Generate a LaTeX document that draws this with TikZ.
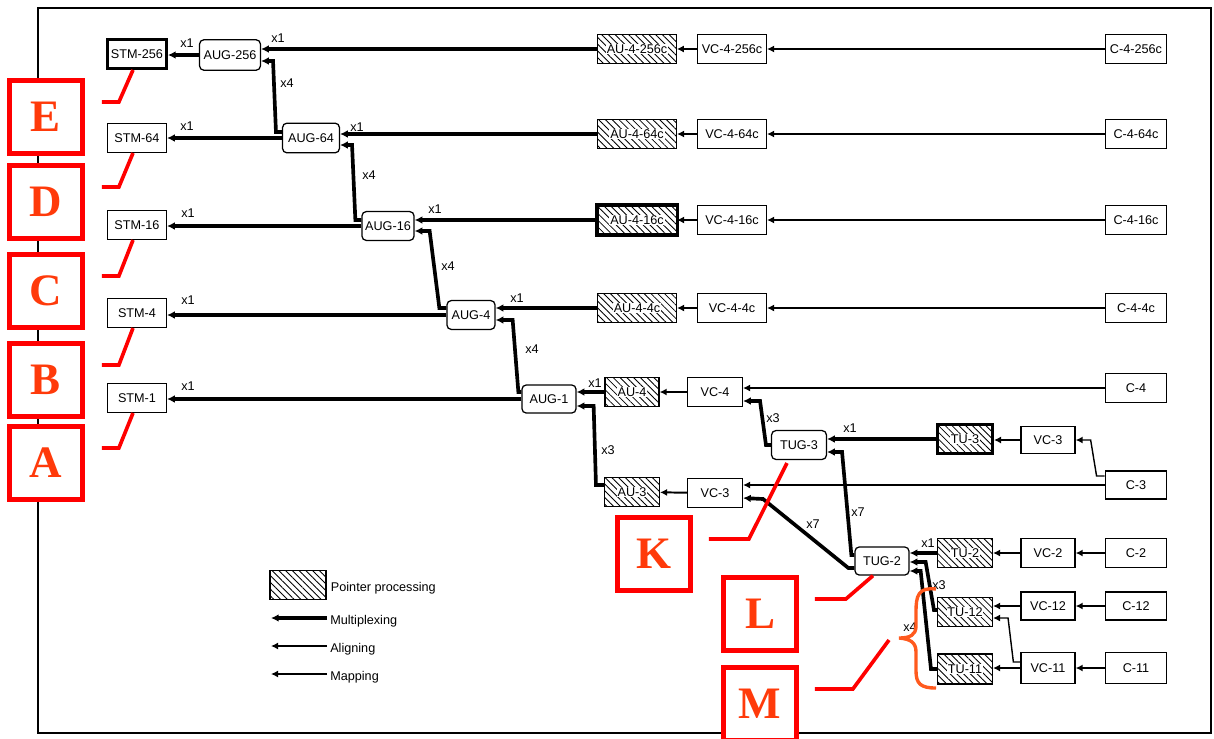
\documentclass[tikz,border=0pt]{standalone}
\usepackage{fontspec}
\setmainfont{Liberation Sans}
\newfontfamily\letterfont{Liberation Serif}
\usetikzlibrary{arrows.meta,positioning,calc,patterns.meta}
\definecolor{callred}{HTML}{FF0000}
\definecolor{lettercol}{HTML}{FF3A0A}
\definecolor{bracecol}{HTML}{FF5A1E}
\newcommand{\ptrtxt}[1]{{\setlength{\fboxsep}{0.6pt}\colorbox{white}{#1}}}
\tikzset{
  unit/.style={draw, line width=0.9pt, minimum height=0.72cm, inner sep=1pt, font=\fontsize{9}{10}\selectfont},
  grp/.style={unit, rounded corners=3pt},
  ptrbox/.style={unit, pattern={Lines[angle=-45,distance=3.4pt,line width=0.6pt]}},
  heavy/.style={line width=2.2pt},
  muxarr/.style={line width=2.6pt, -{Latex[length=5.5pt,width=5.5pt]}},
  alnarr/.style={line width=1.4pt, -{Latex[length=5pt,width=5pt]}},
  maparr/.style={line width=1pt, -{Latex[length=5pt,width=5pt]}},
  mlt/.style={font=\fontsize{9}{10}\selectfont, inner sep=0pt},
  callbox/.style={draw=callred, line width=3.5pt, fill=white, minimum size=1.82cm, inner sep=0pt,
    text=lettercol, font=\letterfont\bfseries\fontsize{32}{32}\selectfont},
  callout/.style={draw=callred, line width=2.6pt},
}

\begin{document}
\begin{tikzpicture}[x=0.025cm, y=-0.025cm]
\useasboundingbox (0,0) rectangle (1214,738);
\draw[line width=1.4pt] (38,8) rectangle (1211,733);

% STM outputs and AUG chain
\node[unit, heavy, minimum width=1.47cm] (stm256) at (137,54) {STM-256};
\foreach \n/\t/\y in {stm64/STM-64/138, stm16/STM-16/225, stm4/STM-4/313, stm1/STM-1/398}
  \node[unit, minimum width=1.47cm] (\n) at (137,\y) {\t};
\node[grp, minimum width=1.52cm, minimum height=0.76cm] (aug256) at (230,55) {AUG-256};
\node[grp, minimum width=1.42cm, minimum height=0.74cm] (aug64) at (311,138) {AUG-64};
\node[grp, minimum width=1.3cm] (aug16) at (388,226) {AUG-16};
\node[grp, minimum width=1.2cm] (aug4) at (471,315) {AUG-4};
\node[grp, minimum width=1.35cm, minimum height=0.7cm] (aug1) at (549,399) {AUG-1};

% contiguous concatenation rows
\foreach \rw/\y in {256/49, 64/134, 16/220, 4/308}{
  \node[ptrbox, minimum width=1.97cm] (au\rw c) at (637,\y) {\ptrtxt{AU-4-\rw c}};
  \node[unit, minimum width=1.72cm] (vc\rw c) at (732,\y) {VC-4-\rw c};
  \node[unit, minimum width=1.54cm] (c\rw c) at (1136,\y) {C-4-\rw c};
  \draw[alnarr] (vc\rw c) -- (au\rw c);
  \draw[maparr] (c\rw c) -- (vc\rw c);
}
\draw[heavy] (au16c.south west) rectangle (au16c.north east);

% lower branch
\node[ptrbox, minimum width=1.35cm] (au4) at (632,392) {\ptrtxt{AU-4}};
\node[unit, minimum width=1.37cm] (vc4) at (715,392) {VC-4};
\node[unit, minimum width=1.54cm] (c4) at (1136,388) {C-4};
\node[grp, minimum width=1.37cm] (tug3) at (799,445) {TUG-3};
\node[ptrbox, heavy, minimum width=1.37cm] (tu3) at (965,439) {\ptrtxt{TU-3}};
\node[unit, minimum width=1.35cm, minimum height=0.68cm] (vc3r) at (1048,440) {VC-3};
\node[unit, minimum width=1.54cm, minimum height=0.7cm] (c3) at (1136,485) {C-3};
\node[ptrbox, minimum width=1.37cm] (au3) at (632,492) {\ptrtxt{AU-3}};
\node[unit, minimum width=1.37cm] (vc3) at (715,493) {VC-3};
\node[grp, minimum width=1.35cm, minimum height=0.7cm] (tug2) at (882,561) {TUG-2};
\node[ptrbox, minimum width=1.37cm] (tu2) at (965,553) {\ptrtxt{TU-2}};
\node[unit, minimum width=1.35cm] (vc2) at (1048,553) {VC-2};
\node[unit, minimum width=1.54cm] (c2) at (1136,553) {C-2};
\node[ptrbox, minimum width=1.37cm] (tu12) at (965,612) {\ptrtxt{TU-12}};
\node[unit, minimum width=1.35cm, minimum height=0.7cm] (vc12) at (1048,606) {VC-12};
\node[unit, minimum width=1.54cm, minimum height=0.7cm] (c12) at (1136,606) {C-12};
\node[ptrbox, minimum width=1.37cm, minimum height=0.75cm] (tu11) at (965,669) {\ptrtxt{TU-11}};
\node[unit, minimum width=1.35cm, minimum height=0.77cm] (vc11) at (1048,668) {VC-11};
\node[unit, minimum width=1.54cm, minimum height=0.77cm] (c11) at (1136,668) {C-11};

% multiplexing
\foreach \a/\s in {aug256/stm256, aug64/stm64, aug16/stm16, aug4/stm4, aug1/stm1}
  \draw[muxarr] (\a.west) -- (\a.west -| \s.east);
\draw[muxarr] (au256c.west) -- (au256c.west -| aug256.east);
\draw[muxarr] (au64c.west) -- (au64c.west -| aug64.east);
\draw[muxarr] (au16c.west) -- (au16c.west -| aug16.east);
\draw[muxarr] (au4c.west) -- (au4c.west -| aug4.east);
\draw[muxarr] (au4.west) -- (au4.west -| aug1.east);
\draw[muxarr] ($(aug64.west)+(0,-6)$) -- ++(-6,0) -- ($(aug256.east)+(12,6)$) -- ($(aug256.east)+(0,6)$);
\draw[muxarr] ($(aug16.west)+(0,-6)$) -- ++(-6,0) -- ($(aug64.east)+(12,7)$) -- ($(aug64.east)+(0,7)$);
\draw[muxarr] ($(aug4.west)+(0,-7)$) -- ++(-7,0) -- ($(aug16.east)+(15,5)$) -- ($(aug16.east)+(0,5)$);
\draw[muxarr] ($(aug1.west)+(0,-7)$) -- ++(-3,0) -- ($(aug4.east)+(17,5)$) -- ($(aug4.east)+(0,5)$);
\draw[muxarr] ($(au3.west)+(0,-7)$) -- ++(-8,0) -- ($(aug1.east)+(17,7)$) -- ($(aug1.east)+(0,7)$);
\draw[muxarr] (tug3.west) -- ++(-5,0) -- ($(vc4.east)+(17,9)$) -- ($(vc4.east)+(0,9)$);
\draw[muxarr] (tu3.west) -- (tu3.west -| tug3.east);
\draw[muxarr] ($(tug2.west)+(0,-6)$) -- ++(-3,0) -- ($(tug3.east)+(15,7)$) -- ($(tug3.east)+(0,7)$);
\draw[muxarr] ($(tug2.west)+(0,7)$) -- ++(-6,0) -- ($(vc3.east)+(20,6)$) -- ($(vc3.east)+(0,5)$);
\draw[muxarr] (tu2.west) -- (tu2.west -| tug2.east);
\draw[muxarr] ($(tu12.west)+(0,-2)$) -- ++(-3,0) -- ($(tug2.east)+(16,1)$) -- ($(tug2.east)+(0,1)$);
\draw[muxarr] (tu11.west) -- ++(-6,0) -- ($(tug2.east)+(11,10)$) -- ($(tug2.east)+(0,10)$);

% aligning
\draw[alnarr] (vc4) -- (au4);
\draw[alnarr] (vc3) -- (au3);
\draw[alnarr] (vc3r.west) -- (vc3r.west -| tu3.east);
\draw[alnarr] (vc2) -- (tu2);
\draw[alnarr] (vc12.west) -- (vc12.west -| tu12.east);
\draw[alnarr] (vc11.west) -- (vc11.west -| tu11.east);
\draw[maparr] ($(vc11.west)+(0,-6)$) -- ++(-7,0) -- ($(tu12.east)+(15,6)$) -- ($(tu12.east)+(0,6)$);

% mapping
\draw[maparr] (c4.west) -- (c4.west -| vc4.east);
\draw[maparr] (c3.west) -- (c3.west -| vc3.east);
\draw[maparr] ($(c3.west)+(0,-9)$) -- ++(-8,0) -- ($(vc3r.east)+(15,0)$) -- (vc3r.east);
\draw[maparr] (c2) -- (vc2);
\draw[maparr] (c12) -- (vc12);
\draw[maparr] (c11) -- (vc11);

% multiplication factors
\foreach \x/\y/\t in {187/43/x1, 278/38/x1, 287/83/x4, 187/126/x1, 357/127/x1, 369/175/x4,
    188/213/x1, 435/209/x1, 448/266/x4, 188/300/x1, 517/298/x1, 532/349/x4, 188/386/x1,
    595/383/x1, 608/450/x3, 773/418/x3, 850/428/x1, 858/512/x7, 813/524/x7, 928/543/x1,
    939/585/x3, 910/627/x4}
  \node[mlt] (x\x-\y) at (\x,\y) {\t};

% legend
\node[ptrbox, minimum width=1.4cm, minimum height=0.72cm] (lgbox) at (298,585) {};
\node[mlt, anchor=west] (lgptr) at ($(lgbox.east)+(4,3)$) {Pointer processing};
\node[mlt, anchor=west] (lgmux) at (330,621) {Multiplexing};
\node[mlt, anchor=west] (lgaln) at (330,649) {Aligning};
\node[mlt, anchor=west] (lgmap) at (330,677) {Mapping};
\draw[muxarr] ($(lgmux.west)+(-3,-3)$) -- ++(-56,0);
\draw[alnarr] ($(lgaln.west)+(-3,-3)$) -- ++(-56,0);
\draw[maparr] ($(lgmap.west)+(-3,-3)$) -- ++(-56,0);

% brace over the TU-12 / TU-11 inputs
\coordinate (bracetip) at (899,638);
\draw[bracecol, line width=2.4pt] (936,589) .. controls (918,587) and (916,596) .. (916,612)
  -- (916,626) .. controls (916,635) and (910,638) .. (bracetip)
  .. controls (910,639) and (916,642) .. (916,652) -- (916,671)
  .. controls (916,684) and (921,688) .. (936,688);

% callouts
\foreach \lt/\y in {E/117, D/202, C/291, B/380, A/463}
  \node[callbox] (lbl\lt) at (46,\y) {\lt};
\node[callbox] (lblK) at (654,554) {K};
\node[callbox] (lblL) at (760,614) {L};
\node[callbox] (lblM) at (760,704) {M};
\foreach \lt/\s in {E/stm256, D/stm64, C/stm16, B/stm4, A/stm1}
  \draw[callout] ($(lbl\lt.east)+(17,-15)$) -- ++(17,0) -- ($(\s.south)+(-4,0)$);
\draw[callout] ($(lblK.east)+(16,-15)$) -- ++(40,0) -- ($(tug3.south)+(-12,3)$);
\draw[callout] ($(lblL.east)+(16,-15)$) -- ++(31,0) -- ($(tug2.south)+(-9,0)$);
\draw[callout] ($(lblM.east)+(16,-15)$) -- ++(38,0) -- ($(bracetip)+(-10,2)$);
\end{tikzpicture}
\end{document}
